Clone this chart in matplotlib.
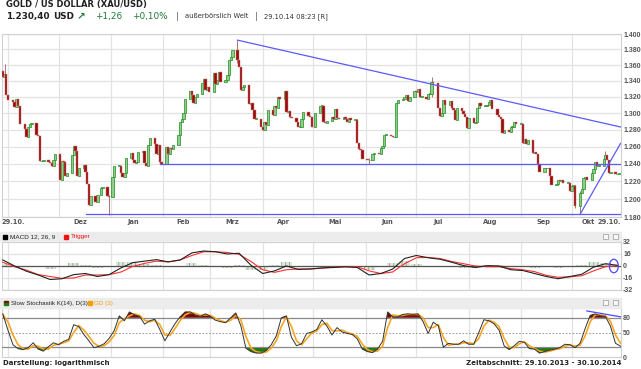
import numpy as np
import pandas as pd
import matplotlib
matplotlib.use("Agg")
import matplotlib.pyplot as plt
import matplotlib.transforms as mtransforms
from matplotlib.patches import Rectangle, Ellipse
from matplotlib.ticker import NullLocator, FixedLocator

# ---------------- data (USD) ----------------
closes = [
    # Oct 2013
    1345, 1349, 1323,
    # Nov
    1316, 1314, 1308, 1318, 1309, 1287, 1281, 1271, 1284, 1287, 1288,
    1274, 1273, 1243, 1243, 1244, 1242, 1241, 1238, 1245, 1251,
    # Dec
    1221, 1243, 1242, 1226, 1229, 1250, 1261, 1255, 1226, 1235, 1239,
    1231, 1217, 1193, 1203, 1197, 1204, 1212, 1214, 1203, 1202,
    # Jan 2014
    1225, 1238, 1238, 1229, 1225, 1229, 1247, 1253, 1245, 1241, 1242,
    1254, 1255, 1241, 1238, 1262, 1270, 1263, 1251, 1262, 1242, 1240,
    # Feb
    1260, 1252, 1258, 1257, 1262, 1274, 1289, 1293, 1300, 1318, 1328,
    1322, 1312, 1320, 1324, 1337, 1342, 1329, 1332, 1326,
    # Mar
    1350, 1336, 1341, 1351, 1338, 1341, 1347, 1367, 1370, 1379, 1366,
    1358, 1329, 1332, 1335, 1311, 1312, 1304, 1293, 1293, 1284,
    # Apr
    1280, 1290, 1286, 1304, 1298, 1309, 1306, 1320, 1318, 1327, 1302,
    1303, 1295, 1294, 1289, 1284, 1284, 1293, 1302, 1297, 1296, 1284,
    # May
    1283, 1300, 1309, 1309, 1289, 1288, 1291, 1296, 1293, 1305, 1294,
    1293, 1295, 1293, 1289, 1294, 1292, 1292, 1265, 1257, 1256, 1246,
    # Jun
    1245, 1244, 1244, 1252, 1253, 1252, 1259, 1261, 1274, 1274, 1273,
    1271, 1272, 1313, 1316, 1317, 1320, 1322, 1315, 1320, 1327,
    # Jul
    1326, 1330, 1320, 1320, 1317, 1324, 1324, 1338, 1337, 1307, 1297,
    1301, 1316, 1310, 1315, 1306, 1304, 1292, 1307, 1303, 1299, 1296, 1282,
    # Aug
    1294, 1288, 1289, 1307, 1313, 1309, 1309, 1310, 1314, 1316, 1305,
    1298, 1295, 1293, 1276, 1280, 1277, 1284, 1284, 1290, 1287,
    # Sep
    1287, 1265, 1269, 1263, 1268, 1253, 1254, 1251, 1240, 1231, 1235,
    1235, 1235, 1226, 1216, 1217, 1222, 1220, 1222, 1218, 1218, 1209,
    # Oct
    1215, 1215, 1192, 1207, 1211, 1224, 1225, 1222, 1230, 1234, 1242,
    1238, 1238, 1246, 1250, 1245, 1229, 1231, 1228, 1228, 1230,
]
first_open = 1352
holidays = ["2013-12-25", "2014-01-01"]

# a few visible wicks
wick_dates = ["2013-10-30", "2013-12-31", "2014-03-17", "2014-06-03",
              "2014-07-10", "2014-10-03", "2014-10-06", "2014-10-21"]
wick_lows = [1340, 1182, 1362, 1240, 1320, 1190, 1183, 1244]
wick_highs = [1361, 1205, 1392, 1247, 1345, 1216, 1209, 1255]

# trend lines drawn on the chart
trend_dates = [["2014-03-17", "2014-10-30"], ["2014-10-06", "2014-10-30"],
               ["2014-01-30", "2014-10-30"], ["2013-12-17", "2014-10-30"]]
trend_values = [[1392, 1283.5], [1183, 1264], [1240, 1240], [1183.5, 1183.5]]

price_ticks = list(range(1180, 1401, 20))
month_names = ["Dez", "Jan", "Feb", "Mrz", "Apr", "Mai", "Jun", "Jul", "Aug", "Sep", "Okt"]
month_label_dates = ["2013-12-14", "2014-01-14", "2014-02-13", "2014-03-14", "2014-04-13",
                     "2014-05-14", "2014-06-14", "2014-07-14", "2014-08-14", "2014-09-14",
                     "2014-10-11"]

# MACD 12,26,9 - weekly readings from 29.10.2013
macd = [8, 0, -7, -12, -18, -17, -11.5, -10, -14, -11.5, -2.5, 4.5, 6.5, 8.5,
        5.5, 8, 17.5, 20, 19, 16, 17, 1, -10, -6.5, 0, -4.5, -4, -2.5, -2, -1,
        -2, -12, -10, -4, 10, 14, 11, 9, 5, 0.5, -2, 0.5, 0, -5, -6, -10, -14,
        -17, -14, -11, -1.5, 3, 1]
trigger = [5, -1, -5.5, -11.5, -14, -16.5, -16, -12, -12, -11.5, -8, -0.5, 3.5,
           6.5, 5.5, 8, 14, 19, 19, 18, 15.5, 6, -5, -8.5, -5, -4, -4, -3, -1.5,
           -1, -1, -6.5, -10, -8, 3, 11, 11.5, 10, 6, 3, 0, -1, -1, -3.5, -5,
           -7.5, -12.5, -15, -14.5, -13, -6.5, -1, 0.5]
macd_hist = [3, 0.3, -1.5, -0.5, -4, -0.5, 4.5, 2, -2, 0, 5.5, 5, 3, 2, 0, 0,
             3.5, 1, 0, -2, 1.5, -5, -5, 2, 5, -0.5, 0, 0.5, -0.5, 0, -1, -5.5,
             0, 4, 7, 3, -0.5, -1, -1, -2.5, -2, 1.5, 1, -1.5, -1, -2.5, -1.5,
             -2, 0.5, 2, 5, 4, 0.5]

# Slow stochastic K(14), D(3) - readings every 3 days from 29.10.2013
stoch_k = [88, 55, 25, 17, 15, 19, 29, 16, 12, 21, 29, 25, 32, 36, 66, 62, 46,
           33, 19, 22, 27, 38, 54, 84, 74, 92, 86, 83, 67, 74, 77, 56, 33, 51,
           68, 82, 92, 92, 86, 83, 88, 83, 75, 72, 70, 80, 90, 64, 18, 11, 8, 8,
           13, 25, 43, 80, 84, 40, 23, 27, 48, 51, 56, 76, 63, 45, 60, 51, 48,
           46, 37, 16, 11, 9, 16, 32, 92, 82, 82, 87, 88, 87, 88, 72, 48, 71,
           64, 20, 28, 26, 26, 33, 26, 26, 50, 76, 74, 68, 55, 23, 15, 23, 32,
           30, 17, 16, 8, 11, 14, 16, 19, 26, 25, 19, 28, 58, 85, 88, 84, 83,
           63, 28, 22]
stoch_d = [86, 72, 45, 25, 17, 16, 23, 22, 16, 16, 24, 26, 29, 33, 50, 64, 55,
           42, 28, 22, 23, 31, 44, 70, 78, 84, 88, 85, 75, 72, 75, 66, 45, 44,
           58, 74, 86, 91, 89, 85, 86, 85, 79, 74, 71, 75, 85, 76, 42, 18, 11,
           9, 10, 18, 33, 62, 82, 62, 33, 25, 37, 49, 53, 66, 69, 54, 53, 55,
           50, 47, 42, 26, 15, 11, 12, 22, 60, 86, 84, 85, 87, 87, 87, 80, 60,
           60, 66, 40, 24, 26, 26, 29, 29, 27, 38, 63, 75, 71, 62, 38, 20, 19,
           27, 31, 23, 17, 12, 10, 12, 15, 17, 22, 25, 22, 24, 43, 72, 86, 86,
           84, 73, 45, 28]
stoch_line_dates = ["2014-10-10", "2014-10-30"]
stoch_line_values = [94, 82]

# ---------------- figure ----------------
W, H = 641, 369
fig = plt.figure(figsize=(W / 100, H / 100), dpi=100)
plt.rcParams['font.family'] = ['DejaVu Sans']
plt.rcParams['hatch.linewidth'] = 0.6
small_font = "Liberation Sans"

def axes_px(x0, y0, x1, y1):
    return fig.add_axes([x0 / W, 1 - y1 / H, (x1 - x0) / W, (y1 - y0) / H])

def ftext(px, py, s, **kw):
    fig.text(px / W, 1 - py / H, s, **kw)

def fbox(x0, y0, w, h, **kw):
    fig.patches.append(Rectangle((x0 / W, 1 - (y0 + h) / H), w / W, h / H,
                                 transform=fig.transFigure, **kw))

dates = pd.bdate_range("2013-10-29", "2014-10-29")
dates = dates[~dates.isin(pd.to_datetime(holidays))]
closes = np.array(closes, dtype=float)
opens = np.concatenate([[first_open], closes[:-1]])

xlim = (pd.Timestamp("2013-10-28 12:00"), pd.Timestamp("2014-10-30 06:00"))
month_starts = pd.date_range("2013-11-01", "2014-10-01", freq="MS")
grid_c = "#e3e3e3"
tick_c = "#555555"

def style_panel(a):
    a.set_xlim(*xlim)
    a.set_xticks(month_starts)
    a.tick_params(axis="x", length=0, labelbottom=False)
    a.yaxis.tick_right()
    a.tick_params(axis="y", length=0, labelsize=5.0, colors=tick_c, pad=1.5)
    a.grid(True, color=grid_c, lw=0.9)
    a.set_axisbelow(True)
    for s in a.spines.values():
        s.set_color("#d0d0d0")
        s.set_linewidth(0.8)
    for t in a.get_yticklabels():
        t.set_fontweight("bold")
        t.set_family(small_font)

# ---------------- main price panel ----------------
ax = axes_px(2, 34, 621, 217)
ax.set_yscale("log")
ax.set_ylim(1180, 1400)
ax.yaxis.set_major_locator(FixedLocator(price_ticks))
ax.yaxis.set_minor_locator(NullLocator())
ax.set_yticklabels(["1.%03d" % (v - 1000) for v in price_ticks])
style_panel(ax)

wd = pd.to_datetime(wick_dates)
ax.vlines(wd, wick_lows, wick_highs, color="#b07070", lw=0.7, zorder=2)

up = closes >= opens
body = np.abs(closes - opens)
body = np.where(body < 0.8, 0.8, body)
bottom = np.minimum(opens, closes)
ax.bar(dates[up], body[up], bottom=bottom[up], width=1.4,
       color="#8fce8a", edgecolor="#2b952b", lw=0.55, zorder=3)
ax.bar(dates[~up], body[~up], bottom=bottom[~up], width=1.4,
       color="#9c0b0b", edgecolor="#c97a7a", lw=0.35, zorder=3)

for d, v in zip(trend_dates, trend_values):
    ax.plot(pd.to_datetime(d), v, color="#5a5aff", lw=0.9, zorder=4)

# x labels
trans = mtransforms.blended_transform_factory(ax.transData, ax.transAxes)
for name, d in zip(month_names, month_label_dates):
    ax.text(pd.Timestamp(d), -0.012, name, transform=trans, ha="center", va="top",
            fontsize=4.8, color=tick_c, fontweight="bold")
ax.text(0.0, -0.012, "29.10.", transform=ax.transAxes, ha="left", va="top",
        fontsize=4.8, color=tick_c, fontweight="bold")
ax.text(1.0, -0.012, "29.10.", transform=ax.transAxes, ha="right", va="top",
        fontsize=4.8, color=tick_c, fontweight="bold")

# ---------------- header ----------------
ftext(6, 5, "GOLD / US DOLLAR (XAU/USD)", fontsize=6.0, fontweight="bold",
      color="#222222", va="center")
ftext(6, 16.5, "1.230,40", fontsize=6.4, fontweight="bold", color="#222222", va="center")
ftext(53, 16.5, "USD", fontsize=6.4, fontweight="bold", color="#222222", va="center")
ftext(77, 16.5, "\u2197", fontsize=7.5, fontweight="bold", color="#1f7a3a", va="center")
ftext(95, 16.5, "+1,26", fontsize=6.4, color="#1f7a3a", va="center")
ftext(132, 16.5, "+0,10%", fontsize=6.4, color="#1f7a3a", va="center")
ftext(176, 16.5, "|", fontsize=5.5, color="#444444", va="center")
ftext(185, 16.5, "au\u00dferb\u00f6rslich Welt", fontsize=4.9, color="#333333", va="center")
ftext(255, 16.5, "|", fontsize=5.5, color="#444444", va="center")
ftext(264, 16.5, "29.10.14 08:23 [R]", fontsize=4.9, color="#333333", va="center")

# ---------------- MACD panel ----------------
fbox(0, 232, 621, 9, color="#ececec", zorder=0)
fbox(3, 234.5, 4, 4, color="#000000")
ftext(10, 236.5, "MACD 12, 26, 9", fontsize=4.6, family=small_font, color="#222222", va="center")
fbox(64, 234.5, 4, 4, color="#ee1111")
ftext(71, 236.5, "Trigger", fontsize=4.6, family=small_font, color="#ee1111", va="center")
for by in (234, 300):
    for bx in (603, 613):
        fbox(bx, by, 5, 5, facecolor="#f8f8f8", edgecolor="#999999", lw=0.5)

am = axes_px(2, 242, 621, 290)
am.set_ylim(-32, 32)
am.set_yticks([-32, -16, 0, 16, 32])
am.set_yticklabels(["-32", "-16", "0", "16", "32"])
style_panel(am)
wdates = pd.date_range("2013-10-29", periods=len(macd), freq="7D")
am.bar(wdates, macd_hist, width=6.5, color="#dfe8dc", edgecolor="#8aa585",
       hatch="||||", lw=0, zorder=2)
am.axhline(0, color="#555555", lw=0.9, zorder=3)
am.plot(wdates, trigger, color="#ff3030", lw=0.8, zorder=4)
am.plot(wdates, macd, color="#222222", lw=0.8, zorder=5)
am.add_patch(Ellipse((pd.Timestamp("2014-10-26"), 0), 5.3, 18, fill=False,
                     edgecolor="#4a4aff", lw=0.9, zorder=6))

# ---------------- Stochastic panel ----------------
fbox(0, 298, 621, 10, color="#ececec", zorder=0)
fbox(4, 301, 4, 2, color="#7a0a0a")
fbox(4, 303, 4, 2, color="#1e7a12")
ftext(11, 303, "Slow Stochastik K(14), D(3)", fontsize=4.5, family=small_font,
      color="#222222", va="center")
fbox(88, 301, 4, 4, color="#f5a000")
ftext(94, 303, "GD (3)", fontsize=4.5, family=small_font, color="#f5a000", va="center")

ast = axes_px(2, 308, 621, 357)
ast.set_ylim(0, 100)
ast.set_yticks([0, 50, 80])
ast.set_yticklabels(["0", "50", "80"])
style_panel(ast)
ast.grid(False, axis="y")
sdates = pd.date_range("2013-10-29", periods=len(stoch_k), freq="3D")
k = np.array(stoch_k, dtype=float)
ast.fill_between(sdates, 80, k, where=k >= 80, interpolate=True, color="#7a0a0a", lw=0, zorder=2)
ast.fill_between(sdates, 20, k, where=k <= 20, interpolate=True, color="#1e7a12", lw=0, zorder=2)
ast.axhline(80, color="#8a8a8a", lw=0.9, zorder=3)
ast.axhline(20, color="#8a8a8a", lw=0.9, zorder=3)
ast.axhline(50, color="#8a8a8a", lw=0.6, ls=(0, (2, 2)), zorder=3)
ast.plot(sdates, stoch_d, color="#f5a623", lw=1.2, zorder=4)
ast.plot(sdates, stoch_k, color="#333333", lw=0.7, zorder=5)
ast.plot(pd.to_datetime(stoch_line_dates), stoch_line_values, color="#4a4aff", lw=0.9, zorder=6)

# ---------------- footer ----------------
ftext(3, 363, "Darstellung: logarithmisch", fontsize=5.0, fontweight="bold",
      color="#222222", va="center")
ftext(622, 363, "Zeitabschnitt: 29.10.2013 - 30.10.2014", fontsize=5.0, fontweight="bold",
      color="#222222", va="center", ha="right")

fig.savefig("out.png", dpi=100)
